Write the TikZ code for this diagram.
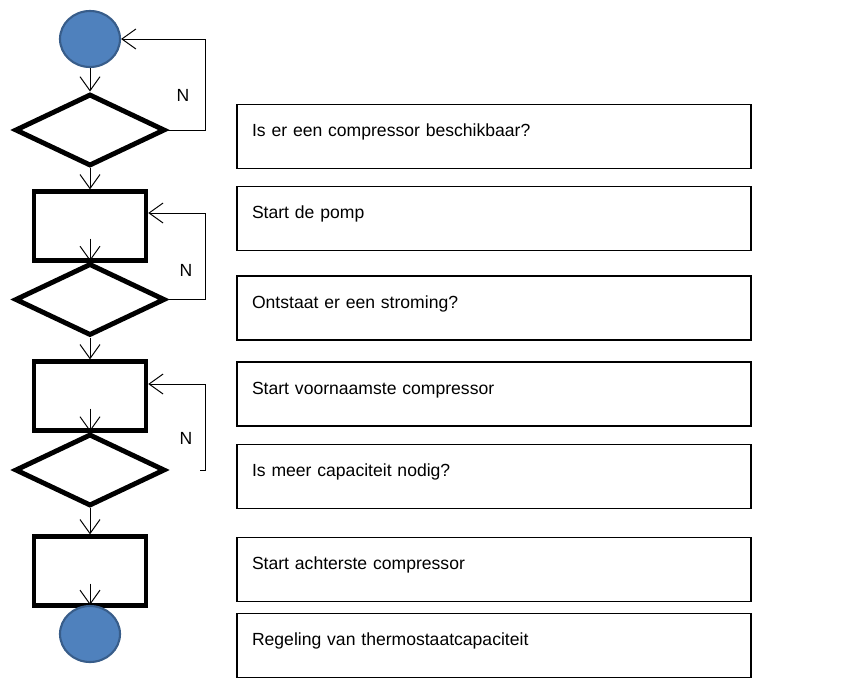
\documentclass[tikz,border=0pt]{standalone}
\usepackage{fontspec}
\setmainfont{Liberation Sans}
\usetikzlibrary{shapes.geometric,arrows.meta}

\definecolor{termfill}{HTML}{4F81BD}
\definecolor{termedge}{HTML}{385D8A}

\begin{document}
\begin{tikzpicture}[
        term/.style={draw=termedge, fill=termfill, line width=1.5pt, ellipse,
            minimum width=1.5cm, minimum height=1.4cm, inner sep=0pt},
        decision/.style={draw, diamond, line width=3.5pt, minimum width=3.75cm,
            minimum height=1.8cm, inner sep=0pt},
        action/.style={draw, rectangle, line width=3.2pt, minimum width=2.8cm,
            minimum height=1.72cm, inner sep=0pt},
        legend/.style={draw, rectangle, line width=1pt, minimum width=12.85cm,
            minimum height=1.6cm, text width=12.1cm, align=left, inner xsep=0.375cm,
            text height=0.2cm, text depth=0.2cm,
            font=\fontsize{12.5}{15}\selectfont},
        flow/.style={line width=0.7pt, -{Straight Barb[length=3.5mm,width=5mm]}},
        answer/.style={font=\fontsize{12.5}{15}\selectfont}
    ]
        \useasboundingbox (0,0) rectangle (21.225,-17.15);

        \node[term]     (start) at (2.25,  -0.975) {};
        \node[decision] (d1)    at (2.25,  -3.25)  {};
        \node[action]   (box1)  at (2.25,  -5.65)  {};
        \node[decision] (d2)    at (2.25,  -7.4875){};
        \node[action]   (box2)  at (2.25,  -9.9)   {};
        \node[decision] (d3)    at (2.25, -11.75)  {};
        \node[action]   (box3)  at (2.25, -14.275) {};
        \node[term]     (stop)  at (2.25, -15.85)  {};

        \node[legend] (t1) at (12.35,  -3.4125) {Is er een compressor beschikbaar?};
        \node[legend] (t2) at (12.35,  -5.4625) {Start de pomp};
        \node[legend] (t3) at (12.35,  -7.7)    {Ontstaat er een stroming?};
        \node[legend] (t4) at (12.35,  -9.85)   {Start voornaamste compressor};
        \node[legend] (t5) at (12.35, -11.9125) {Is meer capaciteit nodig?};
        \node[legend] (t6) at (12.35, -14.2375) {Start achterste compressor};
        \node[legend] (t7) at (12.35, -16.1375) {Regeling van thermostaatcapaciteit};

        % main line
        \draw[flow] (start) -- (d1);
        \draw[flow] (d1) -- (box1);
        \draw[flow] ([yshift=0.6cm]box1.south) -- (d2.north);
        \draw[flow] (d2) -- (box2);
        \draw[flow] ([yshift=0.6cm]box2.south) -- (d3.north);
        \draw[flow] (d3) -- (box3);
        \draw[flow] ([yshift=0.6cm]box3.south) -- (stop.north);

        % no-loops
        \coordinate (c1) at (5.125,  -0.975);
        \coordinate (c2) at (5.125,  -5.325);
        \coordinate (c3) at (5.125,  -9.6);
        \coordinate (s3) at (5.0,   -11.75);

        \draw[flow] (d1.east) -| (c1) -- (start.east);
        \draw[flow] (d2.east) -| (c2) -- (c2 -| box1.east);
        \draw[flow] (s3) -| (c3) -- (c3 -| box2.east);

        \node[answer] (n1) at (4.575,  -2.375) {N};
        \node[answer] (n2) at (4.65,   -6.75)  {N};
        \node[answer] (n3) at (4.65,  -10.95)  {N};
    \end{tikzpicture}
\end{document}
